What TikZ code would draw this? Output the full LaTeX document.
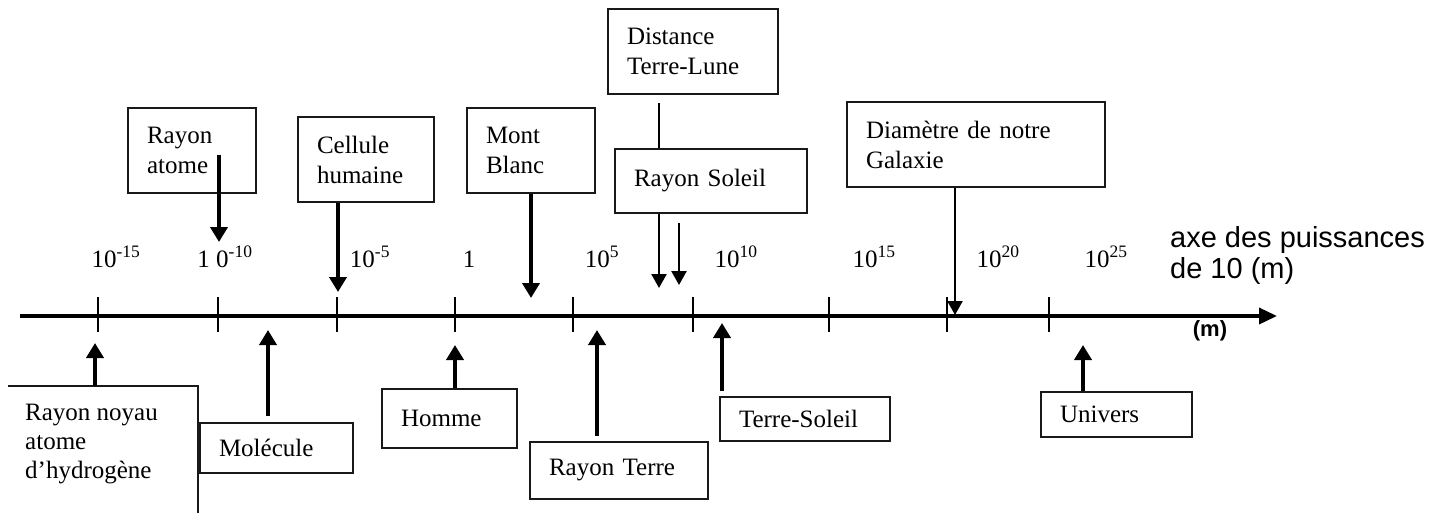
\documentclass[tikz,border=0pt]{standalone}
\usepackage{fontspec}
\setmainfont{Liberation Serif}
\newfontfamily\arialf{Liberation Sans}
\usetikzlibrary{arrows.meta,calc}
\begin{document}
\begin{tikzpicture}[x=1pt,y=-1pt,
  box/.style={draw=black!90, line width=2pt, fill=white, inner xsep=19pt, inner ysep=0pt,
    align=left, font=\fontsize{25}{30}\selectfont},
  bigarrow/.style={line width=4.5pt, -{Triangle[length=15pt,width=17pt]}},
  thinarrow/.style={line width=2.5pt, -{Triangle[length=14pt,width=15pt]}},
  pow/.style={anchor=base, font=\fontsize{25}{30}\selectfont, inner sep=0pt},
  tickmark/.style={line width=1.5pt},
  axisline/.style={line width=3.5pt, -{Triangle[length=18pt,width=16pt]}},
]
\useasboundingbox (0,0) rectangle (1454,512);

% axis
\coordinate (ax0) at (20,316);
\coordinate (ax1) at (1277,316);
\draw[axisline] (ax0) -- (ax1);
\foreach \x in {98,218,337,455,573,693,829,947,1049}
  \draw[tickmark] (\x,297) -- (\x,332);

% powers of ten
\node[pow] (p1) at (116,267) {10\textsuperscript{-15}};
\node[pow] (p2) at (225,267) {1 0\textsuperscript{-10}};
\node[pow] (p3) at (370,267) {10\textsuperscript{-5}};
\node[pow] (p4) at (469,267) {1};
\node[pow] (p5) at (602,267) {10\textsuperscript{5}};
\node[pow] (p6) at (736,267) {10\textsuperscript{10}};
\node[pow] (p7) at (874,267) {10\textsuperscript{15}};
\node[pow] (p8) at (998,267) {10\textsuperscript{20}};
\node[pow] (p9) at (1106,267) {10\textsuperscript{25}};

\node[anchor=north west, inner sep=0pt, align=left, font=\arialf\fontsize{29}{31}\selectfont]
  (axe) at (1170,226) {axe des puissances\\de 10 (m)};
\node[inner sep=0pt, font=\arialf\bfseries\fontsize{22}{24}\selectfont] (unit) at (1210,331) {(m)};

% arrow tips on the axis
\coordinate (tH) at (95,343);
\coordinate (tA) at (219,242);
\coordinate (tM) at (268,330);
\coordinate (tC) at (338,292);
\coordinate (tHo) at (455,345);
\coordinate (tMB) at (531,298);
\coordinate (tRT) at (597,330);
\coordinate (tTL) at (659,288);
\coordinate (tRS) at (679,285);
\coordinate (tTS) at (722,323);
\coordinate (tD) at (955,315);
\coordinate (tU) at (1083,345);

% upper boxes
\node[box, minimum width=128pt, minimum height=85pt, text width=90pt] (atome) at (192,150.5) {Rayon\\atome};
\draw[bigarrow] ($(tA |- atome.center)+(0,4)$) -- (tA);

\node[box, minimum width=136pt, minimum height=85pt, text width=98pt] (cellule) at (366,159.5) {Cellule\\humaine};
\draw[bigarrow] (tC |- cellule.south) -- (tC);

\node[box, minimum width=128pt, minimum height=85pt, text width=90pt] (mont) at (531,150.5) {Mont\\Blanc};
\draw[bigarrow] (tMB |- mont.south) -- (tMB);

\node[box, minimum width=170pt, minimum height=85pt, text width=132pt] (lune) at (693,51.5) {Distance\\Terre-Lune};
\draw[thinarrow] ($(tTL |- lune.south)+(0,8)$) -- (tTL);

\node[box, minimum width=192pt, minimum height=64pt, text width=154pt] (soleil) at (711,181) {Rayon Soleil\vphantom{p}\\[-4pt]};
\draw[thinarrow] ($(tRS |- soleil.south)+(0,9)$) -- (tRS);

\node[box, minimum width=258pt, minimum height=85pt, text width=220pt] (diam) at (976,144.5) {Diamètre de notre\\Galaxie};
\draw[thinarrow] (tD |- diam.south) -- (tD);

% lower boxes
\draw[line width=2pt, draw=black!90] (8,386) -- (198,386) -- (198,515);
\node[anchor=north west, inner sep=0pt, align=left, font=\fontsize{25}{29}\selectfont]
  (hyd) at (25,403.5) {Rayon noyau\\atome\\d’hydrogène};
\coordinate (hydtop) at (95,386);
\draw[bigarrow] (hydtop) -- (tH);

\node[box, minimum width=153pt, minimum height=50pt, text width=115pt] (mol) at (276.5,448) {Molécule};
\draw[bigarrow] ($(tM |- mol.north)+(0,-6)$) -- (tM);

\node[box, minimum width=135pt, minimum height=59pt, text width=97pt] (homme) at (449.5,418.5) {Homme};
\draw[bigarrow] (tHo |- homme.north) -- (tHo);

\node[box, minimum width=178pt, minimum height=57pt, text width=140pt] (terre) at (619,470.5) {Rayon Terre};
\draw[bigarrow] ($(tRT |- terre.north)+(0,-5)$) -- (tRT);

\node[box, minimum width=170pt, minimum height=44pt, text width=132pt] (tsol) at (805,419) {Terre-Soleil};
\draw[bigarrow] ($(tTS |- tsol.north)+(0,-5)$) -- (tTS);

\node[box, minimum width=151pt, minimum height=45pt, text width=113pt] (univ) at (1116.5,414.5) {Univers};
\draw[bigarrow] (tU |- univ.north) -- (tU);
\end{tikzpicture}
\end{document}
